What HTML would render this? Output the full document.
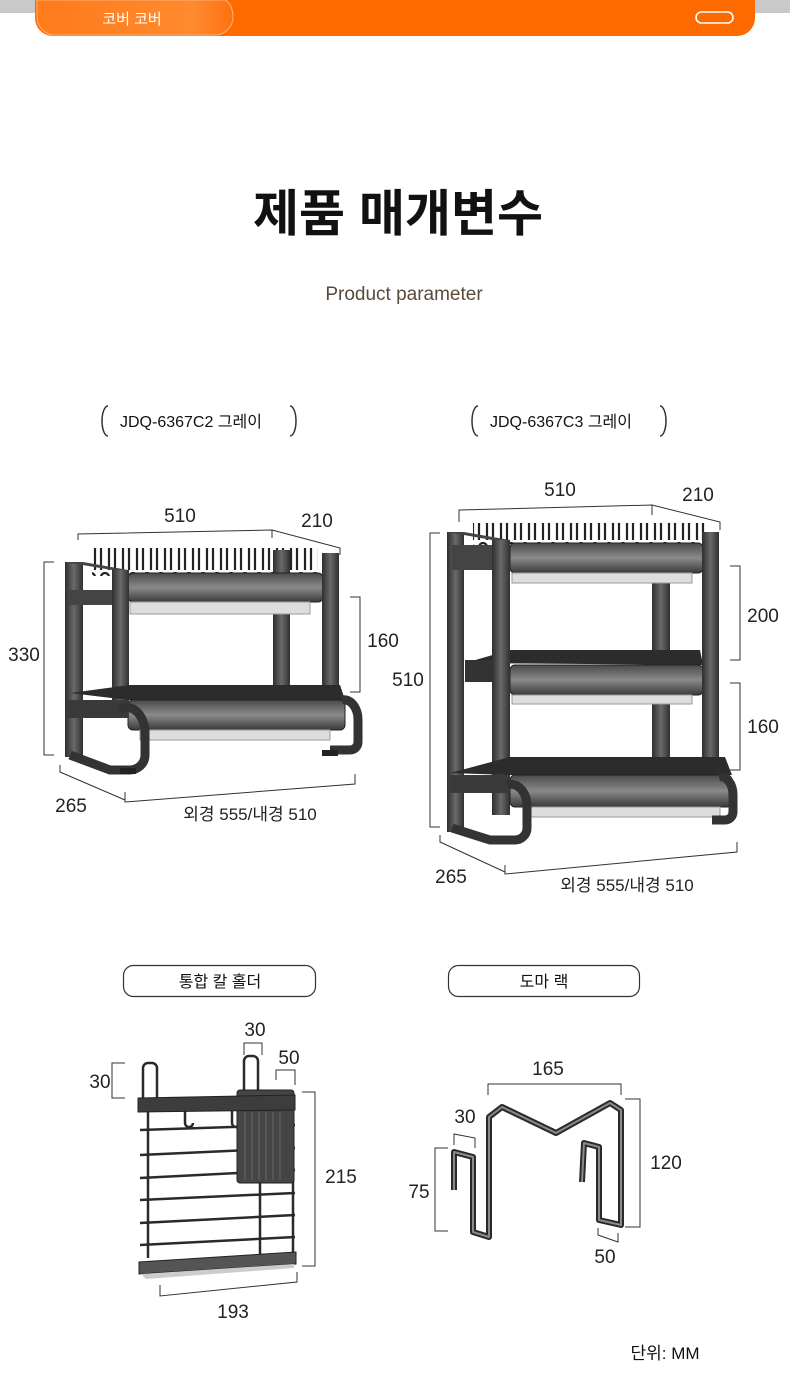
<!DOCTYPE html>
<html><head><meta charset="utf-8"><style>
html,body{margin:0;padding:0;background:#fff;}
body{width:790px;height:1386px;overflow:hidden;font-family:"Liberation Sans","Noto Sans CJK KR",sans-serif;}
svg text{font-family:"Liberation Sans","Noto Sans CJK KR",sans-serif;}
</style></head><body>
<svg width="790" height="1386" viewBox="0 0 790 1386" xmlns="http://www.w3.org/2000/svg">
<defs>
<linearGradient id="post" x1="0" x2="1"><stop offset="0" stop-color="#2e2e2e"/><stop offset=".5" stop-color="#6a6a6a"/><stop offset="1" stop-color="#303030"/></linearGradient>
<linearGradient id="tray" x1="0" y1="0" x2="0" y2="1"><stop offset="0" stop-color="#4a4a4a"/><stop offset=".5" stop-color="#8a8a8a"/><stop offset="1" stop-color="#3a3a3a"/></linearGradient>
<linearGradient id="pill" x1="0" x2="1"><stop offset="0" stop-color="#ff7a1a"/><stop offset=".8" stop-color="#ff8a30"/><stop offset="1" stop-color="#ff7010"/></linearGradient>
<pattern id="tines" x="0" y="0" width="14" height="30" patternUnits="userSpaceOnUse"><path d="M3 30 V7 a4 4 0 0 1 8 0 V30" fill="none" stroke="#222" stroke-width="2.2"/></pattern>
</defs>
<!-- header -->
<rect x="0" y="0" width="790" height="13" fill="#c9c9c9"/>
<path d="M35 0 H755 V18 a18 18 0 0 1 -18 18 H53 a18 18 0 0 1 -18 -18 Z" fill="#ff6a00"/>
<path d="M37 0 H225 a10 18 0 0 1 8 17 a18 18 0 0 1 -18 18 H55 a18 18 0 0 1 -18 -18 Z" fill="url(#pill)" stroke="#ffb070" stroke-width="1"/>
<text x="132" y="24" font-size="15" fill="#fff" text-anchor="middle">코버 코버</text>
<rect x="696" y="12" width="37" height="11" rx="5.5" fill="none" stroke="#fff" stroke-width="1.6"/>
<!-- titles -->
<text x="398" y="231" font-size="50" font-weight="bold" fill="#111" text-anchor="middle">제품 매개변수</text>
<text x="404" y="300" font-size="19" fill="#5a4a3a" text-anchor="middle">Product parameter</text>
<!-- model labels -->
<path d="M108 406 a6 15 0 0 0 0 30" fill="none" stroke="#333" stroke-width="1.5"/>
<path d="M290 406 a6 15 0 0 1 0 30" fill="none" stroke="#333" stroke-width="1.5"/>
<text x="120" y="427" font-size="16" fill="#111">JDQ-6367C2 그레이</text>
<path d="M478 406 a6 15 0 0 0 0 30" fill="none" stroke="#333" stroke-width="1.5"/>
<path d="M660 406 a6 15 0 0 1 0 30" fill="none" stroke="#333" stroke-width="1.5"/>
<text x="490" y="427" font-size="16" fill="#111">JDQ-6367C3 그레이</text>

<!-- RACK 1 -->
<g stroke="#333" stroke-width="1" fill="none">
<path d="M78 540 V534 L272 530 V538 M272 530 L340 548 V555"/>
<path d="M54 562 H44 V755 H54"/>
<path d="M350 597 H360 V692 H350"/>
<path d="M60 765 L60 772 L125 800 M125 792 V802 L355 784 V774"/>
</g>
<g font-size="19" fill="#222" text-anchor="middle">
<text x="180" y="522">510</text><text x="317" y="527">210</text><text x="24" y="661">330</text>
<text x="383" y="647">160</text><text x="71" y="812">265</text>
<text x="250" y="820" font-size="17">외경 555/내경 510</text>
</g>
<rect x="92" y="548" width="226" height="28" fill="url(#tines)"/>
<rect x="273" y="550" width="17" height="145" fill="url(#post)"/>
<rect x="65" y="562" width="18" height="195" fill="url(#post)"/>
<path d="M65 562 L112 570 H128 L83 562Z" fill="#444"/>
<rect x="68" y="590" width="48" height="15" fill="#444"/>
<rect x="128" y="573" width="195" height="29" rx="5" fill="url(#tray)" stroke="#222"/>
<rect x="130" y="602" width="180" height="12" fill="#ddd" stroke="#999"/>
<rect x="322" y="553" width="17" height="145" fill="url(#post)"/>
<rect x="112" y="570" width="17" height="145" fill="url(#post)"/>
<path d="M70 693 L130 685 H340 L345 700 H128 Z" fill="#2c2c2c"/>
<rect x="128" y="700" width="217" height="30" rx="5" fill="url(#tray)" stroke="#222"/>
<rect x="140" y="730" width="190" height="10" fill="#ddd" stroke="#999"/>
<rect x="67" y="700" width="62" height="18" fill="#3a3a3a"/>
<path d="M70 755 L110 770 H130 a15 15 0 0 0 15 -15 V730 a18 28 0 0 0 -25 -20" fill="none" stroke="#333" stroke-width="9"/>
<path d="M330 750 H350 a8 8 0 0 0 8 -8 V720 a14 20 0 0 0 -16 -20" fill="none" stroke="#333" stroke-width="9"/>
<rect x="120" y="768" width="16" height="6" fill="#222"/><rect x="322" y="750" width="16" height="6" fill="#222"/>

<!-- RACK 2 -->
<g stroke="#333" stroke-width="1" fill="none">
<path d="M459 522 V510 L652 505 V515 M652 505 L720 522 V530"/>
<path d="M440 533 H430 V827 H440"/>
<path d="M730 566 H740 V660 H730"/>
<path d="M730 683 H740 V770 H730"/>
<path d="M440 835 V842 L505 872 M505 865 V874 L737 852 V842"/>
</g>
<g font-size="19" fill="#222" text-anchor="middle">
<text x="560" y="496">510</text><text x="698" y="501">210</text><text x="408" y="686">510</text>
<text x="763" y="622">200</text><text x="763" y="733">160</text><text x="451" y="883">265</text>
<text x="627" y="891" font-size="17">외경 555/내경 510</text>
</g>
<rect x="473" y="523" width="234" height="22" fill="url(#tines)"/>
<rect x="652" y="575" width="18" height="195" fill="url(#post)"/>
<rect x="447" y="532" width="17" height="300" fill="url(#post)"/>
<path d="M447 532 L492 540 H510 L464 532Z" fill="#444"/>
<rect x="452" y="545" width="45" height="25" fill="#444"/>
<rect x="510" y="543" width="193" height="30" rx="5" fill="url(#tray)" stroke="#222"/>
<rect x="512" y="573" width="180" height="10" fill="#ddd" stroke="#999"/>
<path d="M465 663 L510 650 H700 L703 665 Z" fill="#2c2c2c"/>
<rect x="465" y="660" width="45" height="22" fill="#333"/>
<rect x="510" y="665" width="193" height="30" rx="5" fill="url(#tray)" stroke="#222"/>
<rect x="512" y="695" width="180" height="9" fill="#ddd" stroke="#999"/>
<rect x="702" y="532" width="17" height="235" fill="url(#post)"/>
<rect x="492" y="540" width="18" height="275" fill="url(#post)"/>
<path d="M450 773 L510 757 H725 L732 775 H510 Z" fill="#2c2c2c"/>
<rect x="510" y="775" width="222" height="32" rx="5" fill="url(#tray)" stroke="#222"/>
<rect x="525" y="807" width="195" height="10" fill="#ddd" stroke="#999"/>
<rect x="450" y="775" width="60" height="18" fill="#3a3a3a"/>
<path d="M452 828 L490 840 H515 a12 12 0 0 0 12 -12 V805 a16 22 0 0 0 -20 -20" fill="none" stroke="#333" stroke-width="9"/>
<path d="M712 820 H725 a8 8 0 0 0 8 -8 V795 a12 18 0 0 0 -14 -18" fill="none" stroke="#333" stroke-width="9"/>

<!-- bottom labels -->
<rect x="123.5" y="965.5" width="192" height="31" rx="10" fill="none" stroke="#333" stroke-width="1.2"/>
<text x="220" y="987" font-size="16" fill="#111" text-anchor="middle">통합 칼 홀더</text>
<rect x="448.5" y="965.5" width="191" height="31" rx="10" fill="none" stroke="#333" stroke-width="1.2"/>
<text x="544" y="987" font-size="16" fill="#111" text-anchor="middle">도마 랙</text>

<!-- knife holder -->
<g stroke="#333" stroke-width="1" fill="none">
<path d="M125 1063 H112 V1098 H125"/>
<path d="M244 1055 V1043 H262 V1055"/>
<path d="M276 1080 V1070 H295 V1085"/>
<path d="M302 1092 H315 V1266 H302"/>
<path d="M160 1285 V1296 L297 1282 V1272"/>
</g>
<g font-size="19" fill="#222" text-anchor="middle">
<text x="100" y="1088">30</text><text x="255" y="1036">30</text><text x="289" y="1064">50</text>
<text x="341" y="1183">215</text><text x="233" y="1318">193</text>
</g>
<g fill="none" stroke="#2a2a2a" stroke-width="2.5">
<path d="M143 1098 V1068 a5 5 0 0 1 5 -5 H152 a5 5 0 0 1 5 5 V1098"/>
<path d="M244 1090 V1061 a5 5 0 0 1 5 -5 H253 a5 5 0 0 1 5 5 V1090"/>
<path d="M148 1110 V1258 M260 1183 V1257 M293 1110 V1257"/>
<path d="M140 1130 L295 1125 M140 1155 L295 1148 M140 1178 L295 1170 M140 1200 L295 1193 M140 1223 L295 1215 M140 1245 L295 1237"/>
<path d="M185 1110 V1123 a4 4 0 0 0 8 0 M232 1110 V1123 a4 4 0 0 0 8 0 M276 1110 V1123 a4 4 0 0 0 8 0"/>
</g>
<rect x="237" y="1090" width="57" height="93" rx="3" fill="#454545" stroke="#222"/>
<path d="M245 1112 V1180 M252 1112 V1180 M259 1112 V1180 M266 1112 V1180 M273 1112 V1180 M280 1112 V1180" stroke="#666" stroke-width="1"/>
<path d="M138 1098 L295 1095 V1110 L138 1112 Z" fill="#3d3d3d" stroke="#222"/>
<path d="M139 1262 L296 1252 V1264 L139 1274 Z" fill="#555" stroke="#222"/>
<path d="M141 1274 L294 1264 V1268 L146 1279 Z" fill="#ccc"/>

<!-- cutting board rack -->
<g stroke="#333" stroke-width="1" fill="none">
<path d="M488 1095 V1084 H621 V1095"/>
<path d="M625 1099 H640 V1227 H625"/>
<path d="M454 1145 V1134 L475 1138 V1148"/>
<path d="M448 1148 H435 V1231 H448"/>
<path d="M598 1228 V1235 L618 1242 V1233"/>
</g>
<g font-size="19" fill="#222" text-anchor="middle">
<text x="548" y="1075">165</text><text x="666" y="1169">120</text><text x="465" y="1123">30</text>
<text x="419" y="1198">75</text><text x="605" y="1263">50</text>
</g>
<path d="M454 1190 V1152 L473 1157 V1232 L489 1237 V1117 L502 1107 L556 1133 L610 1103 L621 1110 V1225 L599 1220 V1147 L584 1143 L582 1182" fill="none" stroke="#2a2a2a" stroke-width="6" stroke-linejoin="round"/>
<path d="M454 1190 V1152 L473 1157 V1232 L489 1237 V1117 L502 1107 L556 1133 L610 1103 L621 1110 V1225 L599 1220 V1147 L584 1143 L582 1182" fill="none" stroke="#8a8a8a" stroke-width="2" stroke-linejoin="round"/>

<text x="665" y="1359" font-size="17" fill="#111" text-anchor="middle">단위: MM</text>
</svg>
</body></html>
